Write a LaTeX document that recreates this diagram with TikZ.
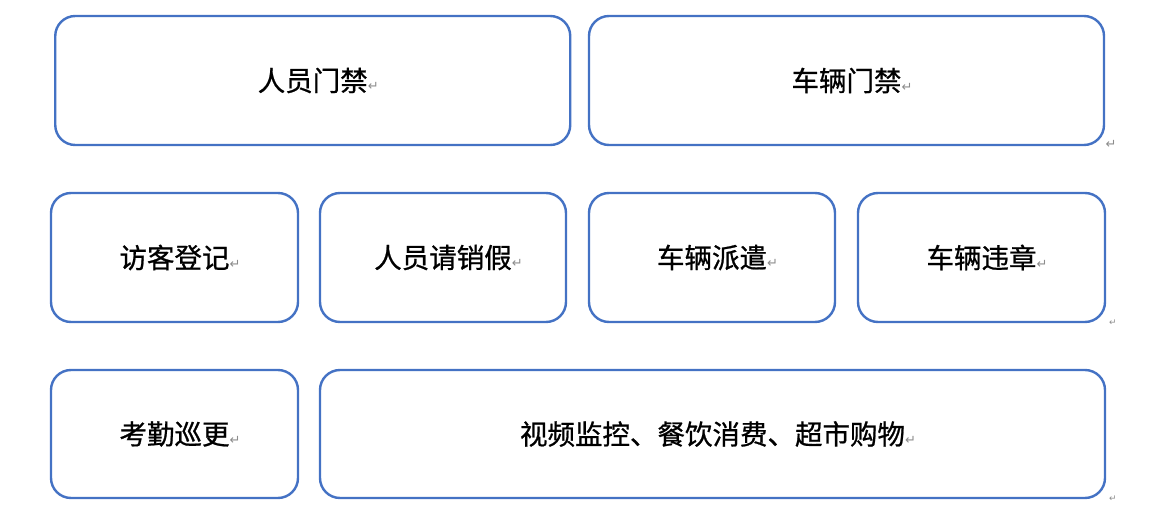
\documentclass[tikz,border=0pt]{standalone}
\usepackage{fontspec}
\setmainfont{Noto Sans CJK SC}[FakeBold=0.8]
\newfontfamily\markfont{DejaVu Sans}
\definecolor{boxblue}{HTML}{4472C4}
\definecolor{markgray}{HTML}{8C8C8C}
\newcommand{\retmark}{\rlap{\markfont\fontsize{13}{13}\selectfont\color{markgray}↵}}

\begin{document}
\begin{tikzpicture}[
  x=1pt, y=-1pt,
  tile/.style={draw=boxblue, line width=2.4pt, rounded corners=20pt, fill=white,
    inner sep=0pt, minimum height=129pt, font=\fontsize{27.5}{27.5}\selectfont},
  stray/.style={inner sep=0pt, text=markgray, font=\markfont\fontsize{9}{9}\selectfont}
]
\useasboundingbox (0,0) rectangle (1160,516);
% top row
\node[tile, minimum width=515pt] (staff) at (312.75,80.5) {人员门禁\retmark};
\node[tile, minimum width=515pt] (car) at (846.5,80.5) {车辆门禁\retmark};
% middle row
\node[tile, minimum width=247pt] (visitor) at (174.5,257.5) {访客登记\retmark};
\node[tile, minimum width=246pt] (leave) at (443,257.5) {人员请销假\retmark};
\node[tile, minimum width=246pt] (dispatch) at (712,257.5) {车辆派遣\retmark};
\node[tile, minimum width=247pt] (violation) at (981.5,257.5) {车辆违章\retmark};
% bottom row
\node[tile, minimum width=247pt, minimum height=128pt] (patrol) at (174.5,434) {考勤巡更\retmark};
\node[tile, minimum width=785pt, minimum height=128pt] (services) at (712.5,434)
  {视频监控、餐饮消费、超市购物\retmark};

% loose paragraph marks
\node[stray, font=\markfont\fontsize{13}{13}\selectfont] (m1) at (1111,144) {↵};
\node[stray] (m2) at (1113,323) {↵};
\node[stray] (m3) at (1113,499) {↵};

\end{tikzpicture}
\end{document}
